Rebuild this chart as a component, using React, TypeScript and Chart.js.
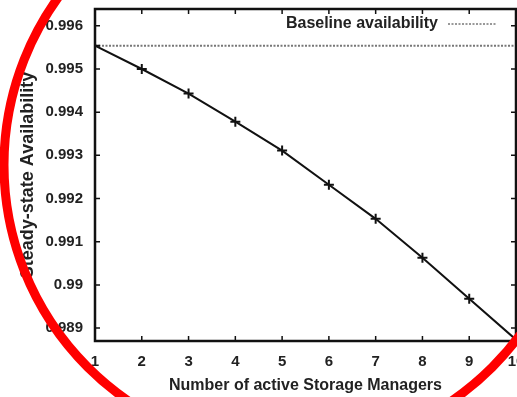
import React, { useEffect, useRef } from "react";
import { Chart, registerables } from "chart.js";

Chart.register(...registerables);

const managers = [1, 2, 3, 4, 5, 6, 7, 8, 9, 10];
const availability = [0.99554, 0.995, 0.99443, 0.99378, 0.99311, 0.99232, 0.99153, 0.99063, 0.98968, 0.98873];
const baselineValue = 0.99554;
const baselineLabel = "Baseline availability";
const xTicks = [1, 2, 3, 4, 5, 6, 7, 8, 9, 10];
const yTicks = [0.989, 0.99, 0.991, 0.992, 0.993, 0.994, 0.995, 0.996];
const xTitle = "Number of active Storage Managers";
const yTitle = "Steady-state Availability";

const FONT = "'Liberation Sans', Arial, sans-serif";

const zeroPad = (axis: any) => {
  axis.paddingLeft = 0;
  axis.paddingRight = 0;
  axis.paddingTop = 0;
  axis.paddingBottom = 0;
};

const framePlugin = {
  id: "frame",
  afterDatasetsDraw(chart: any) {
    const { ctx, chartArea: a, scales } = chart;
    ctx.save();
    ctx.strokeStyle = "#111";
    ctx.lineWidth = 1.5;
    ctx.setLineDash([]);
    const tl = 5;
    ctx.beginPath();
    for (const v of xTicks) {
      const px = scales.x.getPixelForValue(v);
      ctx.moveTo(px, a.bottom);
      ctx.lineTo(px, a.bottom - tl);
      ctx.moveTo(px, a.top);
      ctx.lineTo(px, a.top + tl);
    }
    for (const v of yTicks) {
      const py = scales.y.getPixelForValue(v);
      ctx.moveTo(a.left, py);
      ctx.lineTo(a.left + tl, py);
      ctx.moveTo(a.right, py);
      ctx.lineTo(a.right - tl, py);
    }
    ctx.stroke();
    ctx.lineWidth = 2.5;
    ctx.strokeStyle = "#111";
    ctx.strokeRect(a.left, a.top, a.right - a.left, a.bottom - a.top);

    // legend (gnuplot style: text then sample)
    const ds = chart.data.datasets[1];
    ctx.font = `bold 16px ${FONT}`;
    ctx.fillStyle = "#222";
    ctx.textAlign = "right";
    ctx.textBaseline = "middle";
    const ly = a.top + 15;
    ctx.fillText(ds.label, a.right - 78, ly);
    ctx.strokeStyle = "#333";
    ctx.lineWidth = 1;
    ctx.setLineDash([2, 1.5]);
    ctx.beginPath();
    ctx.moveTo(a.right - 68, ly);
    ctx.lineTo(a.right - 19, ly);
    ctx.stroke();
    ctx.restore();
  },
  afterDraw(chart: any) {
    const { ctx } = chart;
    ctx.save();
    ctx.strokeStyle = "#ff0000";
    ctx.lineWidth = 9;
    ctx.beginPath();
    ctx.arc(290, 165, 286, 0, Math.PI * 2);
    ctx.stroke();
    ctx.restore();
  },
};

export default function App() {
  const ref = useRef<HTMLCanvasElement>(null);
  useEffect(() => {
    document.body.style.margin = "0";
    const chart = new Chart(ref.current!, {
      type: "line",
      data: {
        datasets: [
          {
            label: "Steady-state availability",
            data: managers.map((m, i) => ({ x: m, y: availability[i] })),
            borderColor: "#111",
            borderWidth: 2,
            pointStyle: "cross",
            pointRadius: 5,
            pointBorderWidth: 2,
            pointBorderColor: "#111",
            tension: 0,
            fill: false,
          },
          {
            label: baselineLabel,
            data: [
              { x: managers[0], y: baselineValue },
              { x: managers[managers.length - 1], y: baselineValue },
            ],
            borderColor: "#777",
            borderWidth: 2,
            borderDash: [2, 1.5],
            pointRadius: 0,
            fill: false,
          },
        ],
      },
      options: {
        animation: false,
        responsive: false,
        devicePixelRatio: 1,
        layout: { autoPadding: false, padding: { left: 0, right: 1, top: 9, bottom: 0 } },
        plugins: { legend: { display: false }, tooltip: { enabled: false } },
        scales: {
          x: {
            type: "linear",
            min: 1,
            max: 10,
            grid: { display: false, drawTicks: false },
            border: { display: false },
            afterBuildTicks: (axis: any) => {
              axis.ticks = xTicks.map((v) => ({ value: v }));
            },
            afterFit: (axis: any) => {
              axis.height = 56;
              zeroPad(axis);
            },
            ticks: {
              padding: 12,
              color: "#222",
              font: { family: FONT, size: 15, weight: "bold" },
              maxRotation: 0,
              autoSkip: false,
            },
            title: {
              display: true,
              text: xTitle,
              color: "#222",
              font: { family: FONT, size: 16, weight: "bold" },
              padding: { top: 0, bottom: 2 },
            },
          },
          y: {
            type: "linear",
            min: 0.9887,
            max: 0.99639,
            grid: { display: false, drawTicks: false },
            border: { display: false },
            afterBuildTicks: (axis: any) => {
              axis.ticks = yTicks.map((v) => ({ value: v }));
            },
            afterFit: (axis: any) => {
              axis.width = 95;
              zeroPad(axis);
            },
            ticks: {
              padding: 12,
              color: "#222",
              font: { family: FONT, size: 15, weight: "bold" },
              callback: (v: any) => String(Number(Number(v).toFixed(3))),
            },
            title: {
              display: true,
              text: yTitle,
              color: "#222",
              font: { family: FONT, size: 18, weight: "bold" },
              padding: { top: 17, bottom: 0 },
            },
          },
        },
      },
      plugins: [framePlugin],
    });
    return () => chart.destroy();
  }, []);
  return (
    <div style={{ position: "absolute", left: 0, top: 0, width: 517, height: 397, background: "#fff" }}>
      <canvas ref={ref} width={517} height={397} style={{ width: 517, height: 397 }} />
    </div>
  );
}
